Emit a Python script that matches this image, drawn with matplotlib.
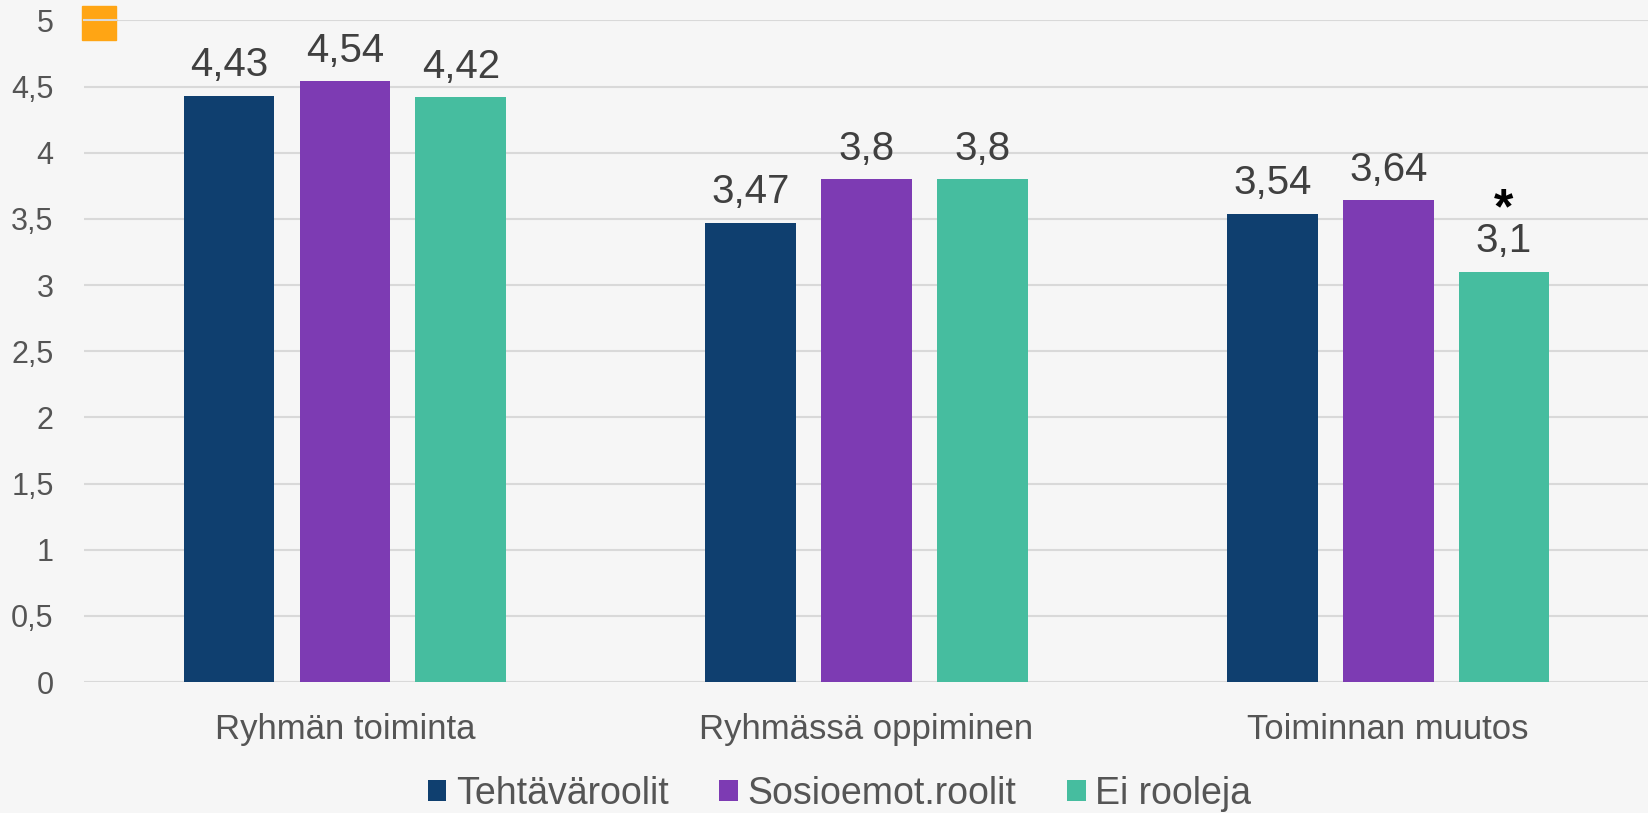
import matplotlib
matplotlib.use("Agg")
import matplotlib.pyplot as plt
import numpy as np
from matplotlib.patches import Rectangle

plt.rcParams["font.family"] = ["Liberation Sans", "DejaVu Sans"]

categories = ["Ryhmän toiminta", "Ryhmässä oppiminen", "Toiminnan muutos"]
series_names = ["Tehtäväroolit", "Sosioemot.roolit", "Ei rooleja"]
tehtava = [4.43, 3.47, 3.54]
sosioemot = [4.54, 3.80, 3.64]
ei_rooleja = [4.42, 3.80, 3.10]
colors = ["#0F3F6F", "#7D3BB3", "#46BD9F"]
yticks = [0, 0.5, 1, 1.5, 2, 2.5, 3, 3.5, 4, 4.5, 5]

bg = "#F6F6F6"
txt = "#404040"
tick_txt = "#555555"

fig = plt.figure(figsize=(16.49, 8.13), dpi=100, facecolor=bg)
ax = fig.add_axes([0.051, 0.161, 0.949, 0.814])
ax.set_facecolor(bg)

x = np.arange(len(categories))
width = 0.174
step = 0.222
for i, (vals, name, col) in enumerate(zip([tehtava, sosioemot, ei_rooleja], series_names, colors)):
    pos = x + (i - 1) * step
    bars = ax.bar(pos, vals, width, color=col, label=name, zorder=3)
    for b, v in zip(bars, vals):
        lab = f"{v:g}".replace(".", ",")
        ax.annotate(lab, (b.get_x() + b.get_width() / 2, v), xytext=(0, 22),
                    textcoords="offset points", ha="center", va="center",
                    fontsize=29, color=txt)

# significance marker above the last bar
ax.annotate("*", (x[2] + step, ei_rooleja[2]), xytext=(0, 44),
            textcoords="offset points", ha="center", va="center",
            fontsize=36, fontweight="bold", color="black")

ax.set_xlim(-0.5, 2.5)
ax.set_ylim(0, 5)
ax.set_yticks(yticks)
ax.set_yticklabels([f"{t:g}".replace(".", ",") for t in yticks])
ax.set_xticks(x)
ax.set_xticklabels(categories)
ax.tick_params(axis="both", length=0, colors=tick_txt)
ax.tick_params(axis="x", pad=22, labelsize=25)
ax.tick_params(axis="y", pad=22, labelsize=22)
ax.grid(axis="y", color="#D9D9D9", linewidth=1.5, zorder=0)
for s in ax.spines.values():
    s.set_visible(False)

fig.patches.append(Rectangle((82 / 1649, 1 - 40 / 813), 34 / 1649, 34 / 813,
                             transform=fig.transFigure, color="#FFA514", zorder=5))
fig.lines.append(plt.Line2D([84 / 1649, 116 / 1649], [1 - 20 / 813] * 2,
                            transform=fig.transFigure, color="#D9D9D9", lw=1.5, zorder=6))

leg = fig.legend(loc="center", bbox_to_anchor=(0.509, 19 / 813), ncol=3, frameon=False,
                 fontsize=27, handlelength=0.5, handleheight=0.5, handletextpad=0.25,
                 columnspacing=1.35)
for t in leg.get_texts():
    t.set_color(tick_txt)

fig.savefig("out.png", dpi=100, facecolor=bg)
